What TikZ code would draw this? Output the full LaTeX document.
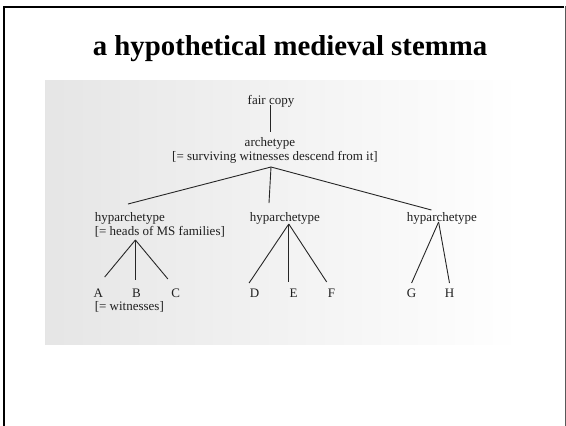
\documentclass[tikz,border=0pt]{standalone}
\usepackage{fontspec}
\setmainfont{Liberation Serif}
\begin{document}
\begin{tikzpicture}[x=1pt,y=-1pt,
  lbl/.style={inner sep=0pt, anchor=base, font=\fontsize{13}{14}\selectfont, text=black!88},
  lblw/.style={lbl, anchor=base west},
  ln/.style={line width=0.9pt, draw=black!85},
  ttl/.style={inner sep=0pt, anchor=base, font=\fontsize{28.8}{34}\selectfont\bfseries}]
\useasboundingbox (0,0) rectangle (566,426);
\fill[white] (0,0) rectangle (566,426);
% scanned page background
\shade[left color=black!10, right color=white] (45,80) rectangle (520,344);
% slide frame
\draw[line width=2.6pt] (4,426) -- (4,7) -- (564,7);
\draw[black!65, line width=1pt] (565,6) -- (565,426);
% title
\node[ttl] (title) at (290,55) {a hypothetical medieval stemma};
% top of stemma
\node[lbl] (fair) at (271,104) {fair copy};
\node[lbl] (arch) at (270,146.5) {archetype};
\node[lbl] (archnote) at (275,160.5) {[= surviving witnesses descend from it]};
\coordinate (fairB) at (270.5,105);
\coordinate (archT) at (270.5,132);
\draw[ln] (fairB) -- (archT);
\coordinate (j) at (271,167);
% hyparchetypes
\node[lblw] (h1) at (94.6,221) {hyparchetype};
\node[lblw] (h1note) at (94.6,235) {[= heads of MS families]};
\node[lbl] (h2) at (285,221) {hyparchetype};
\node[lbl] (h3) at (442,221) {hyparchetype};
\coordinate (h1T) at (128,204);
\coordinate (h2T) at (269,203);
\coordinate (h3T) at (431.4,210);
\draw[ln] (j) -- (h1T);
\draw[ln] (j) -- (h2T);
\draw[ln] (j) -- (h3T);
% witnesses
\node[lbl] (A) at (98.2,297) {A};
\node[lbl] (B) at (136.5,297) {B};
\node[lbl] (C) at (175.8,297) {C};
\node[lblw] (wnote) at (94.6,310) {[= witnesses]};
\node[lbl] (D) at (254.5,297) {D};
\node[lbl] (E) at (293.5,297) {E};
\node[lbl] (F) at (331.4,297) {F};
\node[lbl] (G) at (411.6,297) {G};
\node[lbl] (H) at (449.5,297) {H};
% branches
\coordinate (a1) at (135.4,240);
\coordinate (a2) at (288.8,224);
\coordinate (a3) at (438.6,222);
\coordinate (At) at (104.7,277);
\coordinate (Bt) at (135.4,280);
\coordinate (Ct) at (167.9,279);
\coordinate (Dt) at (249.1,283);
\coordinate (Et) at (288.8,282);
\coordinate (Ft) at (326.7,282);
\coordinate (Gt) at (411.6,283);
\coordinate (Ht) at (449.5,283);
\draw[ln] (a1) -- (At);
\draw[ln] (a1) -- (Bt);
\draw[ln] (a1) -- (Ct);
\draw[ln] (a2) -- (Dt);
\draw[ln] (a2) -- (Et);
\draw[ln] (a2) -- (Ft);
\draw[ln] (a3) -- (Gt);
\draw[ln] (a3) -- (Ht);
\end{tikzpicture}
\end{document}
